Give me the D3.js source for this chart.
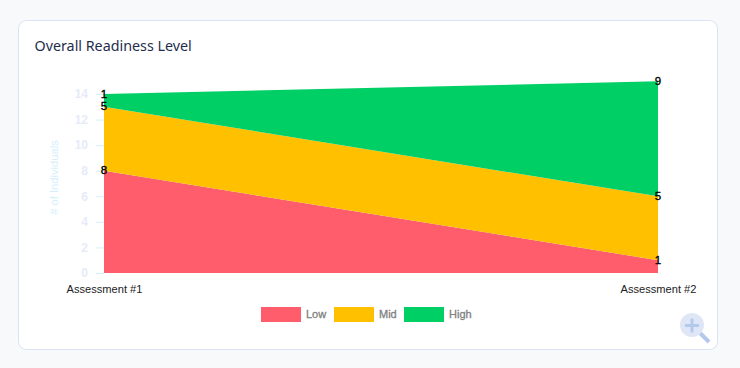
<!DOCTYPE html>
<html><head><meta charset="utf-8">
<script src="https://cdn.jsdelivr.net/npm/d3@7/dist/d3.min.js"></script>
<style>html,body{margin:0;padding:0;background:#f7f9fb;width:740px;height:368px;overflow:hidden}svg{display:block}text{font-family:"Liberation Sans",Arial,sans-serif}</style>
</head><body><svg id="c" width="740" height="368"></svg>
<script>
const categories=["Assessment #1","Assessment #2"];
const seriesNames=["Low","Mid","High"];
const low=[8,1];
const mid=[5,5];
const high=[1,9];
const colors=["#ff5c6c","#ffc000","#00cf66"];
const yTicks=[0,2,4,6,8,10,12,14];
const svg=d3.select("#c");
svg.append("rect").attr("x",18.5).attr("y",20.5).attr("width",699).attr("height",329).attr("rx",8)
  .attr("fill","#fff").attr("stroke","#d9e3f5");
svg.append("text").attr("x",34.5).attr("y",51).attr("fill","#1f2d4d").attr("font-size",14.3)
  .style("font-family","'Noto Sans'").text("Overall Readiness Level");
const x=d3.scalePoint().domain(categories).range([104,658]);
const y=d3.scaleLinear().domain([0,14]).range([273,94]);
const rows=categories.map((c,i)=>({c,Low:low[i],Mid:mid[i],High:high[i]}));
const stacked=d3.stack().keys(seriesNames)(rows);
const area=d3.area().x(d=>x(d.data.c)).y0(d=>y(d[0])).y1(d=>y(d[1]));
svg.append("g").selectAll("path").data(stacked).join("path").attr("d",area).attr("fill",(d,i)=>colors[i]);
const ax=svg.append("g").attr("transform","translate(104,0)").call(d3.axisLeft(y).tickValues(yTicks).tickSize(8).tickPadding(8));
ax.select(".domain").remove();
ax.selectAll("line").attr("stroke","#d4f0fb");
ax.selectAll("text").attr("fill","#e6ebf8").attr("font-size",12).attr("font-weight","bold");
svg.append("text").attr("transform","translate(58,177.5) rotate(-90)").attr("text-anchor","middle")
  .attr("fill","#d4f0fb").attr("font-size",11.2).text("# of Individuals");
const xa=svg.append("g").attr("transform","translate(0,273)").call(d3.axisBottom(x).tickSize(0).tickPadding(12));
xa.select(".domain").remove();
xa.selectAll("text").attr("fill","#222").attr("font-size",11.1);
stacked.forEach(s=>{
  svg.append("g").selectAll("text").data(s).join("text")
   .attr("x",d=>x(d.data.c)).attr("y",d=>y(d[1])-0.5).attr("dy","0.35em").attr("text-anchor","middle")
   .attr("fill","#000").attr("stroke","#000").attr("stroke-width",0.35).attr("font-size",11.5).text(d=>d[1]-d[0]);
});
const legendX=[261,334,404];
const lg=svg.append("g").selectAll("g").data(seriesNames).join("g").attr("transform",(d,i)=>`translate(${legendX[i]},307)`);
lg.append("rect").attr("width",40).attr("height",15).attr("fill",(d,i)=>colors[i]);
lg.append("text").attr("x",45).attr("y",11).attr("fill","#808080").attr("stroke","#808080").attr("stroke-width",0.3).attr("font-size",11).text(d=>d);
const z=svg.append("g");
z.append("line").attr("x1",700).attr("y1",333).attr("x2",709).attr("y2",342).attr("stroke","#b5c9ec").attr("stroke-width",4);
z.append("circle").attr("cx",692).attr("cy",325).attr("r",12).attr("fill","#dfe7f7");
z.append("path").attr("d","M685 325.5H699M692 318.5V332.5").attr("stroke","#b5c9ec").attr("stroke-width",3);
</script></body></html>
